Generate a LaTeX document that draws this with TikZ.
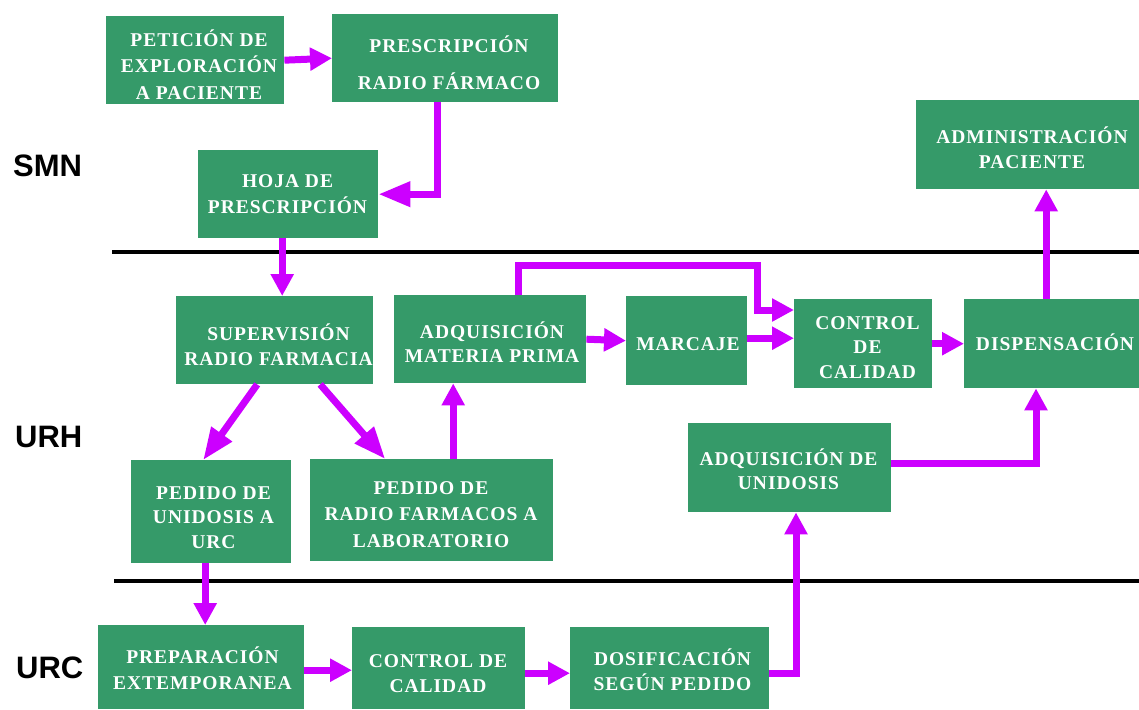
\documentclass[tikz,border=0pt]{standalone}
\usepackage{fontspec}
\setmainfont{Liberation Serif}
\newfontfamily\boxfont[LetterSpace=5]{Liberation Serif}
\newfontfamily\lblfont{Liberation Sans}
\usetikzlibrary{arrows.meta}
\definecolor{boxgreen}{RGB}{53,154,105}
\definecolor{arrmag}{RGB}{204,0,255}
\tikzset{
  box/.style={fill=boxgreen, draw=none, inner sep=0pt, anchor=north west},
  btxt/.style={text=white, font=\boxfont\bfseries\fontsize{19.5}{#1}\selectfont, align=center, inner sep=0pt, anchor=north},
  btxt/.default=25,
  lane/.style={font=\lblfont\bfseries\fontsize{31}{31}\selectfont, anchor=base west, inner sep=0pt},
  arr/.style={draw=arrmag, line width=7pt, line join=miter, -{Triangle[length=22pt,width=22pt]}},
  arrL/.style={draw=arrmag, line width=7pt, line join=miter, -{Triangle[length=32pt,width=24pt]}},
  sepline/.style={line width=3.5pt, black}
}
\newcommand{\fl}{\rule{0pt}{18pt}}
\begin{document}
\begin{tikzpicture}[x=1pt,y=-1pt]
\useasboundingbox (0,0) rectangle (1139,709);
\fill[white] (0,0) rectangle (1139,709);

% lane separators
\coordinate (s1a) at (112,252); \coordinate (s1b) at (1139,252);
\coordinate (s2a) at (114,581); \coordinate (s2b) at (1139,581);
\draw[sepline] (s1a) -- (s1b);
\draw[sepline] (s2a) -- (s2b);

% lane labels
\node[lane] (smn) at (13,176) {SMN};
\node[lane] (urh) at (15,447) {URH};
\node[lane] (urc) at (16,678) {URC};

% boxes
\node[box, minimum width=178pt, minimum height=88pt] (pet) at (106,16) {};
\node[box, minimum width=226pt, minimum height=88pt] (pres) at (332,14) {};
\node[box, minimum width=180pt, minimum height=88pt] (hoja) at (198,150) {};
\node[box, minimum width=223pt, minimum height=89pt] (adm) at (916,100) {};
\node[box, minimum width=197pt, minimum height=88pt] (sup) at (176,296) {};
\node[box, minimum width=192pt, minimum height=88pt] (adqmp) at (394,295) {};
\node[box, minimum width=121pt, minimum height=89pt] (marc) at (626,296) {};
\node[box, minimum width=138pt, minimum height=89pt] (ctrl) at (794,299) {};
\node[box, minimum width=175pt, minimum height=89pt] (disp) at (964,299) {};
\node[box, minimum width=203pt, minimum height=89pt] (adqu) at (688,423) {};
\node[box, minimum width=160pt, minimum height=103pt] (pedu) at (131,460) {};
\node[box, minimum width=243pt, minimum height=102pt] (pedr) at (310,459) {};
\node[box, minimum width=206pt, minimum height=84pt] (prep) at (98,625) {};
\node[box, minimum width=173pt, minimum height=82pt] (ctrlb) at (352,627) {};
\node[box, minimum width=199pt, minimum height=82pt] (dos) at (570,627) {};

% box texts
\node[btxt=26.5] (petT) at (199,28) {\fl PETICIÓN DE\\EXPLORACIÓN\\A PACIENTE};
\node[btxt=37] (presT) at (449,34) {\fl PRESCRIPCIÓN\\RADIO FÁRMACO};
\node[btxt=26] (hojaT) at (287.5,169) {\fl HOJA DE\\PRESCRIPCIÓN};
\node[btxt=25] (admT) at (1032,125) {\fl ADMINISTRACIÓN\\PACIENTE};
\node[btxt=25] (supT) at (278.5,322) {\fl SUPERVISIÓN\\RADIO FARMACIA};
\node[btxt=24.5] (adqmpT) at (492,320) {\fl ADQUISICIÓN\\MATERIA PRIMA};
\node[btxt] (marcT) at (688,332) {\fl MARCAJE};
\node[btxt=24.5] (ctrlT) at (867.5,311) {\fl CONTROL\\DE\\CALIDAD};
\node[btxt] (dispT) at (1055,332) {\fl DISPENSACIÓN};
\node[btxt=24] (adquT) at (788.5,447) {\fl ADQUISICIÓN DE\\UNIDOSIS};
\node[btxt=24.5] (peduT) at (213.5,481) {\fl PEDIDO DE\\UNIDOSIS A\\URC};
\node[btxt=26.5] (pedrT) at (431,476) {\fl PEDIDO DE\\RADIO FARMACOS A\\LABORATORIO};
\node[btxt=26] (prepT) at (202.5,645) {\fl PREPARACIÓN\\EXTEMPORANEA};
\node[btxt=25] (ctrlbT) at (438,649) {\fl CONTROL DE\\CALIDAD};
\node[btxt=25] (dosT) at (672.5,647) {\fl DOSIFICACIÓN\\SEGÚN PEDIDO};

% bend points
\coordinate (k2) at (437,194);
\coordinate (k8a) at (518,265);
\coordinate (k8b) at (757,265);
\coordinate (k8c) at (757,310);
\coordinate (k12) at (1036,463);
\coordinate (k16) at (796,673);

% connectors
\draw[arr] (pet.east) -- (pres.west);
\draw[arrL] (pres.south -| k2) |- (hoja.east);
\draw[arr] ([xshift=-6pt]hoja.south) -- ([xshift=-6pt]hoja.south |- sup.north);
\draw[arrL] ([xshift=-17.5pt]sup.south) -- ([xshift=-8pt]pedu.north);
\draw[arrL] ([xshift=45.5pt]sup.south) -- ([xshift=-46.5pt]pedr.north);
\draw[arr] ([xshift=21.5pt]pedr.north) -- ([xshift=21.5pt]pedr.north |- adqmp.south);
\draw[arr] (adqmp.east) -- (marc.west);
\draw[arr] (adqmp.north -| k8a) -- (k8a) -- (k8b) -- (k8c) -- (ctrl.west |- k8c);
\draw[arr] ([yshift=2.5pt]marc.east) -- ([yshift=2.5pt]marc.east -| ctrl.west);
\draw[arr] (ctrl.east) -- (disp.west);
\draw[arr] ([xshift=-5.5pt]disp.north) -- ([xshift=-5.5pt]disp.north |- adm.south);
\draw[arr] (adqu.east |- k12) -| (disp.south -| k12);
\draw[arr] ([xshift=-6pt]pedu.south) -- ([xshift=-6pt]pedu.south |- prep.north);
\draw[arr] ([yshift=-3pt]prep.east) -- ([yshift=-3pt]prep.east -| ctrlb.west);
\draw[arr] ([yshift=-5pt]ctrlb.east) -- ([yshift=-5pt]ctrlb.east -| dos.west);
\draw[arr] (dos.east |- k16) -- (k16) -- (adqu.south -| k16);
\end{tikzpicture}
\end{document}
